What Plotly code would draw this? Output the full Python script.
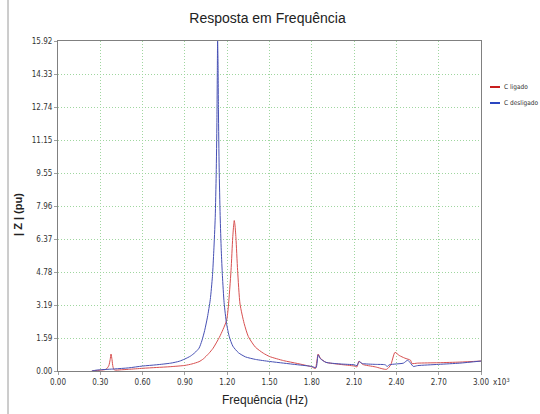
import plotly.graph_objects as go

# ---- data (frequency in kHz, |Z| in pu) ----
series_names = ["C ligado", "C desligado"]

freq_desligado = [0.24, 0.27, 0.30, 0.40, 0.50, 0.60, 0.70, 0.80, 0.86, 0.90, 0.94, 0.97,
                  1.00, 1.02, 1.04, 1.06, 1.08, 1.095, 1.105, 1.115, 1.122, 1.127, 1.130,
                  1.132, 1.135, 1.138, 1.143, 1.150, 1.158, 1.166, 1.178, 1.195, 1.215,
                  1.24, 1.28, 1.33, 1.40, 1.50, 1.60, 1.70, 1.80, 1.83, 1.845, 1.86, 1.90,
                  2.00, 2.10, 2.12, 2.135, 2.16, 2.25, 2.32, 2.335, 2.35, 2.40, 2.45, 2.48,
                  2.50, 2.52, 2.55, 2.70, 2.85, 3.00]
z_desligado = [0.00, 0.04, 0.06, 0.10, 0.15, 0.24, 0.30, 0.38, 0.47, 0.58, 0.72, 0.88,
               1.10, 1.45, 1.95, 2.60, 3.45, 4.55, 5.80, 7.40, 9.50, 12.0, 14.5,
               15.92, 14.8, 12.5, 9.8, 7.5, 5.8, 4.6, 3.30, 2.30, 1.65,
               1.20, 0.88, 0.68, 0.56, 0.46, 0.38, 0.30, 0.22, 0.16, 0.78, 0.60, 0.42,
               0.34, 0.30, 0.26, 0.45, 0.36, 0.32, 0.30, 0.22, 0.30, 0.34, 0.38, 0.52,
               0.38, 0.22, 0.26, 0.32, 0.38, 0.48]

freq_ligado = [0.24, 0.30, 0.34, 0.36, 0.37, 0.376, 0.383, 0.39, 0.40, 0.45, 0.50, 0.60,
               0.70, 0.80, 0.90, 0.95, 1.00, 1.03, 1.07, 1.10, 1.144, 1.17, 1.196, 1.208,
               1.227, 1.239, 1.246, 1.250, 1.255, 1.262, 1.274, 1.291, 1.32, 1.35, 1.40,
               1.456, 1.50, 1.60, 1.70, 1.80, 1.825, 1.845, 1.86, 1.90, 2.00, 2.10, 2.12,
               2.135, 2.16, 2.25, 2.33, 2.36, 2.39, 2.42, 2.46, 2.50, 2.51, 2.55, 2.70,
               2.85, 3.00]
z_ligado = [0.00, 0.04, 0.08, 0.25, 0.55, 0.82, 0.55, 0.20, 0.05, 0.06, 0.08, 0.13,
            0.17, 0.21, 0.27, 0.34, 0.45, 0.58, 0.85, 1.10, 1.62, 2.00, 2.45, 3.10,
            4.84, 6.42, 7.05, 7.26, 7.05, 6.42, 4.84, 3.23, 2.30, 1.66, 1.15,
            0.86, 0.70, 0.50, 0.36, 0.20, 0.12, 0.82, 0.62, 0.42, 0.32, 0.24, 0.20,
            0.48, 0.32, 0.20, 0.08, 0.30, 0.90, 0.75, 0.62, 0.52, 0.36, 0.38, 0.40,
            0.43, 0.48]

x_tick_vals = [0.0, 0.3, 0.6, 0.9, 1.2, 1.5, 1.8, 2.1, 2.4, 2.7, 3.0]
y_tick_labels = ["0.00", "1.59", "3.19", "4.78", "6.37", "7.96", "9.55", "11.15",
                 "12.74", "14.33", "15.92"]
y_max = 15.925

title_text = "Resposta em Frequência"
x_title = "Frequência (Hz)"
y_title = "| Z | (pu)"

# ---- styling ----
W, H = 540, 414
L, R, T, B = 58, 59, 41, 43
pw, ph = W - L - R, H - T - B
red = "#d85050"
blue = "#4650b4"
font_fam = "Liberation Sans Narrow, Liberation Sans, Arial, sans-serif"
cond_fam = "DejaVu Sans Condensed, Liberation Sans Narrow, Liberation Sans, sans-serif"

def px_x(px):
    return (px - L) / pw

def px_y(py):
    return (H - B - py) / ph

fig = go.Figure()
fig.add_trace(go.Scatter(x=freq_ligado, y=z_ligado, mode="lines", name=series_names[0],
                         line=dict(color=red, width=1, shape="spline", smoothing=0.6)))
fig.add_trace(go.Scatter(x=freq_desligado, y=z_desligado, mode="lines", name=series_names[1],
                         line=dict(color=blue, width=1, shape="spline", smoothing=0.6)))

y_tick_vals = [i * y_max / 10 for i in range(len(y_tick_labels))]

axis_common = dict(showline=True, linecolor="#808080", linewidth=1, mirror=True,
                   showgrid=True, gridcolor="#9fd69f", griddash="1px,2px", gridwidth=1,
                   zeroline=False, ticks="outside", ticklen=3, tickcolor="#a0a0a0",
                   tickfont=dict(family=cond_fam, size=8, color="#333333"))

fig.update_layout(
    width=W, height=H,
    margin=dict(l=L, r=R, t=T, b=B),
    paper_bgcolor="white", plot_bgcolor="white",
    showlegend=False,
    title=dict(text=title_text, x=(L + pw / 2 - 2) / W, xanchor="center",
               y=1 - 18 / H, yanchor="middle",
               font=dict(family=font_fam, size=14, color="#222222")),
    xaxis=dict(range=[0, 3.0], tickvals=x_tick_vals, tickformat=".2f", **axis_common),
    yaxis=dict(range=[0, y_max], tickvals=y_tick_vals, ticktext=y_tick_labels,
               **axis_common),
)

annotations = [
    dict(text=x_title, xref="paper", yref="paper", x=px_x(265), y=px_y(400),
         xanchor="center", yanchor="middle", showarrow=False,
         font=dict(family=font_fam, size=12, color="#222222")),
    dict(text="<b>" + y_title + "</b>", xref="paper", yref="paper", x=px_x(18), y=px_y(215),
         xanchor="center", yanchor="middle", showarrow=False, textangle=-90,
         font=dict(family=font_fam, size=11, color="#222222")),
    dict(text="x10<sup>3</sup>", xref="paper", yref="paper", x=px_x(491), y=px_y(382),
         xanchor="left", yanchor="middle", showarrow=False,
         font=dict(family=cond_fam, size=8, color="#333333")),
]

shapes = [
    dict(type="line", xref="paper", yref="paper", x0=px_x(8), x1=px_x(8),
         y0=px_y(0), y1=px_y(H), line=dict(color="#9a9a9a", width=1)),
]

legend_rows = [(series_names[0], "#c81e1e", 87), (series_names[1], "#2a46c0", 103)]
for name, col, ypx in legend_rows:
    shapes.append(dict(type="line", xref="paper", yref="paper", x0=px_x(490), x1=px_x(500),
                       y0=px_y(ypx), y1=px_y(ypx), line=dict(color=col, width=2)))
    annotations.append(dict(text=name, xref="paper", yref="paper", x=px_x(502), y=px_y(ypx),
                            xanchor="left", yanchor="middle", showarrow=False,
                            font=dict(family=cond_fam, size=6.5, color="#333333")))

fig.update_layout(annotations=annotations, shapes=shapes)

fig.write_html("out.html", config={"displayModeBar": False},
               post_script="document.body.style.margin='0';document.body.style.padding='0';")
